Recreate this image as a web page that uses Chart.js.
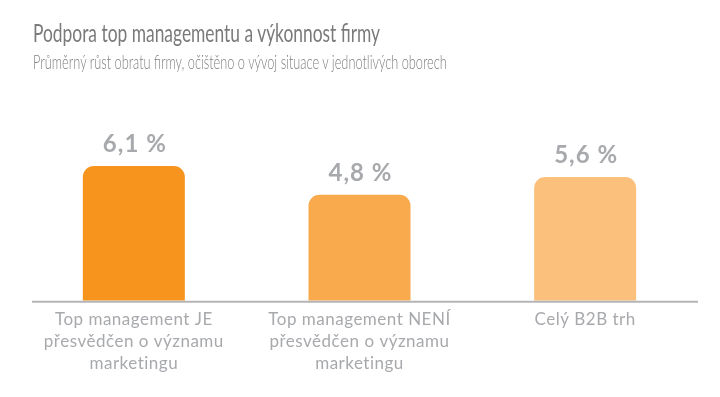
<!DOCTYPE html>
<html lang="cs">
<head>
    <meta charset="UTF-8">
    <title>Podpora top managementu a výkonnost firmy</title>
    <script src="https://cdn.jsdelivr.net/npm/chart.js@4.4.1/dist/chart.umd.min.js"></script>
    <style>
        body { margin: 0; background: #fff; }
        .wrap { position: relative; width: 720px; height: 397px; overflow: hidden; }
        .title, .subtitle { position: absolute; left: 33px; margin: 0; white-space: nowrap; transform-origin: 0 0; }
        .title { top: 17px; font: 400 25px Lato, sans-serif; color: #7a7a7c; }
        .subtitle { top: 49px; font: 300 20px Lato, sans-serif; color: #808083; }
        canvas { position: absolute; left: 0; top: 0; }
    </style>
</head>
<body>
    <div class="wrap">
        <canvas id="chart" width="720" height="397"></canvas>
        <h1 class="title" data-w="347">Podpora top managementu a výkonnost firmy</h1>
        <p class="subtitle" data-w="414">Průměrný růst obratu firmy, očištěno o vývoj situace v jednotlivých oborech</p>
    </div>

    <script>
        // data
        const categories = [
            ['Top management JE', 'přesvědčen o významu', 'marketingu'],
            ['Top management NENÍ', 'přesvědčen o významu', 'marketingu'],
            ['Celý B2B trh']
        ];
        const values = [6.1, 4.8, 5.6];
        const barColors = ['#F7941E', '#F9AA4D', '#FBC07B'];

        const grey = '#a7a9ac';

        // the original font is a narrow one, squeeze the headings to its width
        document.querySelectorAll('[data-w]').forEach(el => {
            const k = el.dataset.w / el.offsetWidth;
            el.style.transform = 'scaleX(' + k + ')';
        });

        // value labels above bars
        const valueLabels = {
            id: 'valueLabels',
            afterDatasetsDraw(chart) {
                const ctx = chart.ctx;
                const meta = chart.getDatasetMeta(0);
                ctx.save();
                ctx.fillStyle = grey;
                ctx.font = 'bold 24px Lato, sans-serif';
                ctx.letterSpacing = '1px';
                ctx.textAlign = 'center';
                ctx.textBaseline = 'alphabetic';
                meta.data.forEach((bar, i) => {
                    const txt = values[i].toFixed(1).replace('.', ',') + ' %';
                    ctx.fillText(txt, bar.x + 1, bar.y - 14);
                });
                ctx.restore();
            }
        };

        // grey base line under the bars + wider tracking for tick labels
        const baseLine = {
            id: 'baseLine',
            beforeDraw(chart) {
                chart.ctx.letterSpacing = '0.5px';
            },
            afterDatasetsDraw(chart) {
                const ctx = chart.ctx;
                const y = chart.scales.y.getPixelForValue(0);
                ctx.save();
                ctx.strokeStyle = '#b5b5b8';
                ctx.lineWidth = 2;
                ctx.beginPath();
                ctx.moveTo(32, y + 1);
                ctx.lineTo(chart.chartArea.right, y + 1);
                ctx.stroke();
                ctx.restore();
            }
        };

        new Chart(document.getElementById('chart'), {
            type: 'bar',
            data: {
                labels: categories,
                datasets: [{
                    data: values,
                    backgroundColor: barColors,
                    borderRadius: { topLeft: 11, topRight: 11 },
                    borderSkipped: 'bottom',
                    barPercentage: 1,
                    categoryPercentage: 0.452
                }]
            },
            options: {
                responsive: false,
                animation: false,
                layout: { padding: { top: 124, left: 21, right: 22, bottom: 22 } },
                plugins: {
                    legend: { display: false },
                    tooltip: { enabled: false }
                },
                scales: {
                    x: {
                        grid: { display: false },
                        border: { display: false },
                        ticks: {
                            color: grey,
                            font: { family: 'Lato, sans-serif', size: 17, lineHeight: 1.3 },
                            padding: 0,
                            autoSkip: false,
                            maxRotation: 0
                        }
                    },
                    y: { display: false, min: 0, max: 8 }
                }
            },
            plugins: [valueLabels, baseLine]
        });
    </script>
</body>
</html>
